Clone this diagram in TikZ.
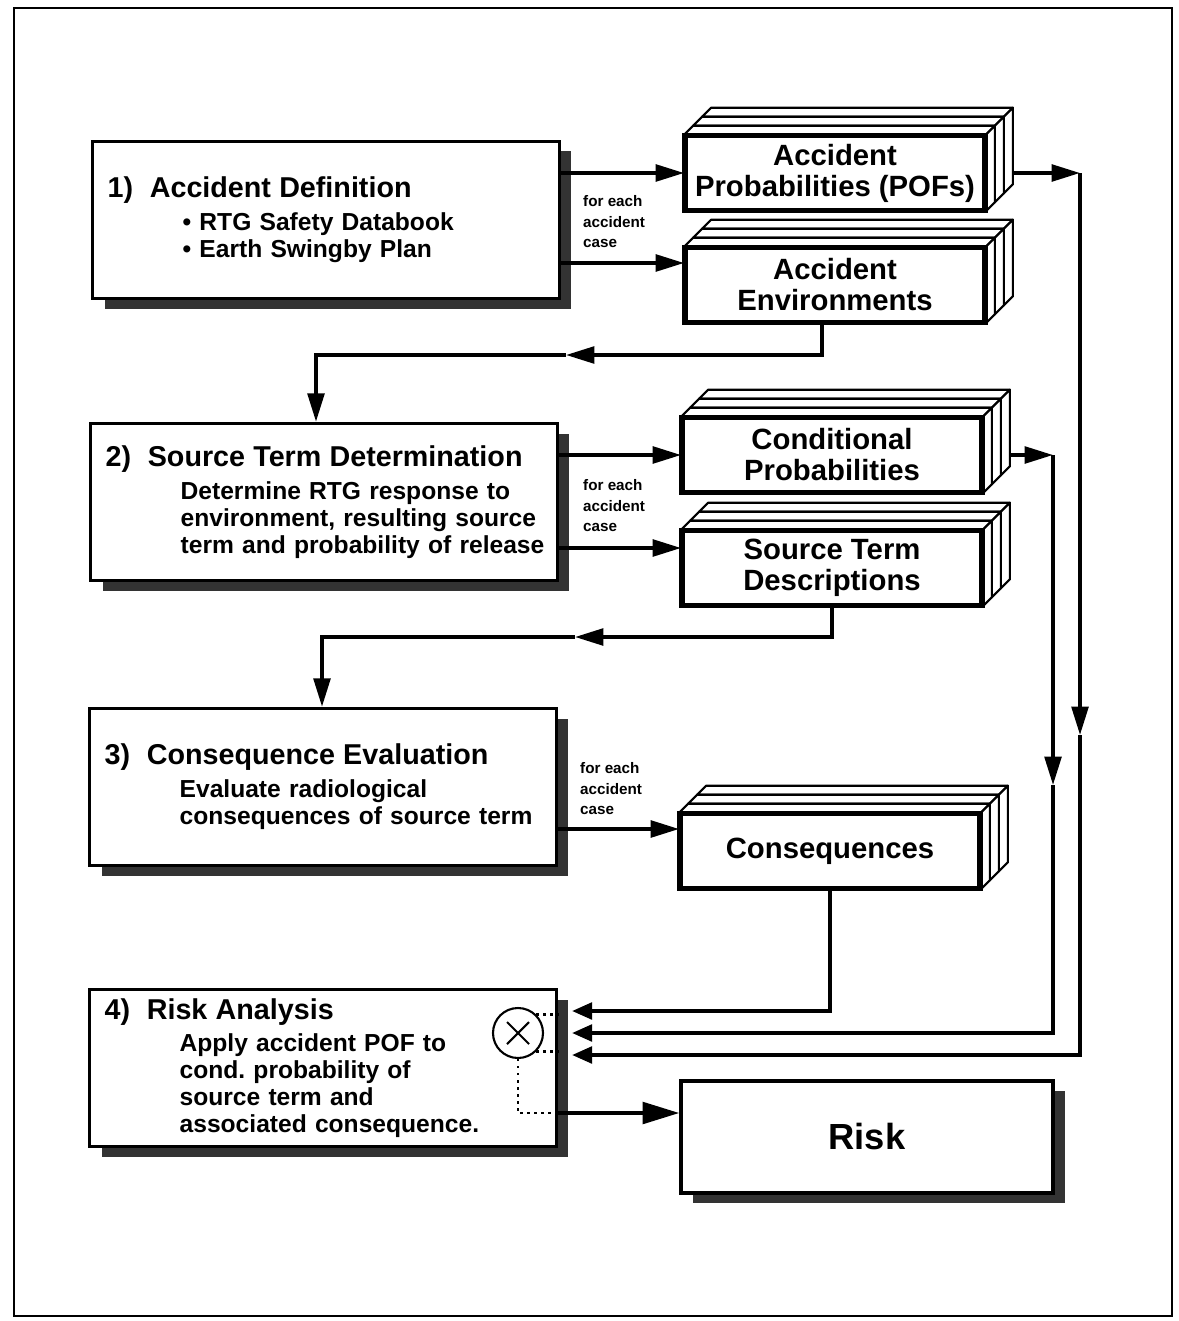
\documentclass[tikz,border=0pt]{standalone}
\usepackage{fontspec}
\setmainfont{Liberation Sans}
\usetikzlibrary{arrows.meta,calc,shadows}
\frenchspacing
\hyphenpenalty=10000

\begin{document}
\begin{tikzpicture}[x=0.03cm, y=-0.03cm, font=\bfseries,
    bigbox/.style={draw, line width=3pt, fill=white,
        minimum width=14cm, minimum height=4.71cm,
        text width=13.9cm, inner xsep=0.05cm, align=left,
        font=\bfseries\fontsize{21}{23}\selectfont,
        general shadow={fill=black!80, shadow xshift=0.36cm, shadow yshift=-0.3cm}},
    riskbox/.style={draw, line width=3pt, fill=white,
        minimum width=11.16cm, minimum height=3.36cm,
        font=\bfseries\fontsize{31}{31}\selectfont,
        general shadow={fill=black!80, shadow xshift=0.36cm, shadow yshift=-0.3cm}},
    stackbox/.style={draw, line width=3pt, fill=white,
        minimum width=8.95cm, minimum height=2.19cm, align=center,
        font=\bfseries\fontsize{25}{26.5}\selectfont},
    layer/.style={draw, line width=1.8pt, fill=white, line join=round},
    conn/.style={line width=3pt, -{Triangle[length=0.85cm, width=0.5cm]}},
    inconn/.style={line width=3pt, -{Triangle[length=0.6cm, width=0.5cm]}},
    riskconn/.style={line width=3pt, -{Triangle[length=1.1cm, width=0.65cm]}},
    caselabel/.style={anchor=west, align=left, inner sep=0pt,
        font=\bfseries\fontsize{13}{17.5}\selectfont},
    dots/.style={line width=2.2pt, dash pattern=on 2pt off 4pt}]

    \newcommand{\boxhead}[2]{{\fontsize{24.5}{28}\selectfont\hspace*{0.4cm}#1\hspace{0.5cm}#2}}
    \newcommand{\subind}{\hspace*{2.65cm}}
    \newcommand{\stacklayers}[1]{%
        \foreach \dd in {18,9,0} {
            \filldraw[layer] ($(#1.north west)+(\dd,-\dd)$) -- ++(9,-9)
                -- ($(#1.north east)+(\dd+9,-\dd-9)$) -- ($(#1.north east)+(\dd,-\dd)$) -- cycle;
            \filldraw[layer] ($(#1.north east)+(\dd,-\dd)$) -- ++(9,-9)
                -- ($(#1.south east)+(\dd+9,-\dd-9)$) -- ($(#1.south east)+(\dd,-\dd)$) -- cycle;
        }
        \draw[line width=3pt] (#1.north west) rectangle (#1.south east);}

    \useasboundingbox (0,0) rectangle (1178,1321);
    \draw[line width=2.4pt] (14,8) rectangle (1172,1316);

    \node[bigbox] (box1) at (326,220) {\boxhead{1)}{Accident Definition}\\[5pt]
        \subind\textbullet\ RTG Safety Databook\\
        \subind\textbullet\ Earth Swingby Plan};
    \node[bigbox] (box2) at (324,502) {\boxhead{2)}{Source Term Determination}\\[5pt]
        \subind Determine RTG response to\\
        \subind environment, resulting source\\
        \subind term and probability of release};
    \node[bigbox] (box3) at (323,787) {\boxhead{3)}{Consequence Evaluation}\\[5pt]
        \subind Evaluate radiological\\
        \subind consequences of source term};
    \node[bigbox] (box4) at (323,1068) {\boxhead{4)}{Risk Analysis}\\[5pt]
        \subind Apply accident POF to\\
        \subind cond. probability of\\
        \subind source term and\\
        \subind associated consequence.};
    \node[riskbox] (risk) at (867,1137) {Risk};

    \node[stackbox] (pof) at (835,173) {Accident\\Probabilities (POFs)};
    \stacklayers{pof}
    \node[stackbox] (env) at (835,285) {Accident\\Environments};
    \stacklayers{env}
    \node[stackbox] (cond) at (832,455) {Conditional\\Probabilities};
    \stacklayers{cond}
    \node[stackbox] (std) at (832,568) {Source Term\\Descriptions};
    \stacklayers{std}
    \node[stackbox] (cons) at (830,851) {Consequences};
    \stacklayers{cons}

    \node[caselabel] (case1) at (583,222) {for each\\accident\\case};
    \node[caselabel] (case2) at (583,506) {for each\\accident\\case};
    \node[caselabel] (case3) at (580,789) {for each\\accident\\case};

    \node[draw, circle, line width=1.8pt, minimum size=1.5cm, inner sep=0pt] (mult) at (518,1033) {};
    \draw[line width=1.8pt] ($(mult.center)+(-11,-11)$) -- ($(mult.center)+(11,11)$);
    \draw[line width=1.8pt] ($(mult.center)+(-11,11)$) -- ($(mult.center)+(11,-11)$);

    \coordinate (a2) at ($(env.west)+(0,-22)$);
    \coordinate (b2) at ($(std.west)+(0,-20)$);
    \coordinate (d1) at ($(cons.west)+(0,-22)$);
    \coordinate (e1) at (822,355);
    \coordinate (e2) at (566,355);
    \coordinate (e3) at (316,355);
    \coordinate (s1) at (832,637);
    \coordinate (s2) at (575,637);
    \coordinate (s3) at (322,637);
    \coordinate (p1) at (1080,173);
    \coordinate (p2) at (1080,735);
    \coordinate (p3) at (1080,1055);
    \coordinate (c1) at (1053,455);
    \coordinate (c2) at (1053,785);
    \coordinate (c3) at (1053,1033);
    \coordinate (q1) at (830,1011);
    \coordinate (r0) at (556,1113);

    \draw[conn] (box1.east |- pof.west) -- (pof.west);
    \draw[conn] (box1.east |- a2) -- (a2);
    \draw[conn] (box2.east |- cond.west) -- (cond.west);
    \draw[conn] (box2.east |- b2) -- (b2);
    \draw[conn] (box3.east |- d1) -- (d1);

    \draw[conn] (env.south -| e1) -- (e1) -- (e2);
    \draw[conn] (e2) -- (e3) -- (box2.north -| e3);
    \draw[conn] (std.south) -- (s1) -- (s2);
    \draw[conn] (s2) -- (s3) -- (box3.north -| s3);

    \draw[conn] ($(pof.east)+(27,0)$) -- (p1);
    \draw[conn] (p1) -- (p2);
    \draw[inconn] (p2) -- (p3) -- ($(box4.east |- p3)+(14,0)$);
    \draw[conn] ($(cond.east)+(27,0)$) -- (c1);
    \draw[conn] (c1) -- (c2);
    \draw[inconn] (c2) -- (c3) -- ($(box4.east |- c3)+(14,0)$);
    \draw[inconn] (cons.south) -- (q1) -- ($(box4.east |- q1)+(14,0)$);

    \draw[dots] (mult.45) -- (mult.45 -| box4.east);
    \draw[dots] (mult.-45) -- (mult.-45 -| box4.east);
    \draw[dots] (mult.south) -- (mult.south |- r0) -- (box4.east |- r0);
    \draw[riskconn] (box4.east |- r0) -- (risk.west |- r0);

\end{tikzpicture}
\end{document}
